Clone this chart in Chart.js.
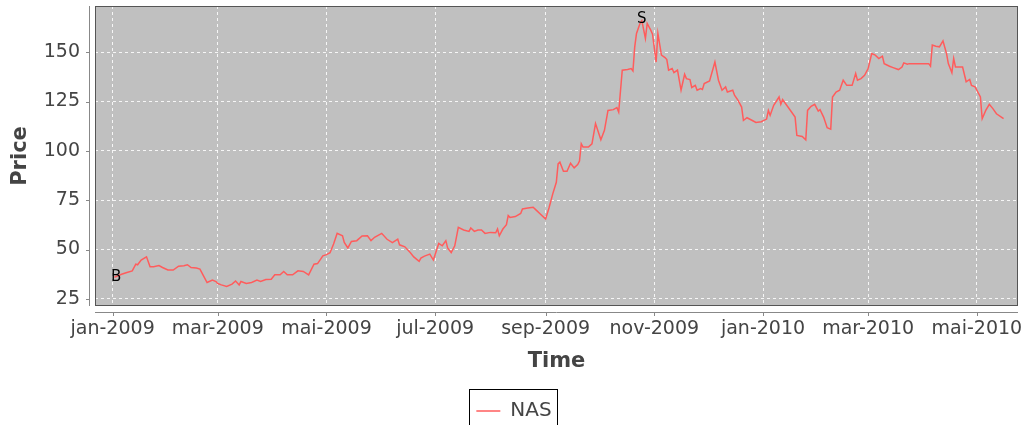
<!DOCTYPE html>
<html lang="en">
<head>
  <meta charset="UTF-8">
  <title>NAS price</title>
  <style>
    html, body { margin: 0; padding: 0; background: #fff; }
    #wrap { width: 1022px; height: 425px; }
  </style>
</head>
<body>
  <script src="https://cdn.jsdelivr.net/npm/chart.js"></script>
  <div id="wrap"><canvas id="myChart"></canvas></div>

<script>
  // days counted from 1 jan 2009
  const dayIndex = [
    1, 5, 8, 11, 13, 14, 16, 19, 21, 23, 26, 28, 31, 34, 37, 40, 42, 44, 47, 49,
    51, 53, 56, 58, 59, 61, 64, 67, 69, 71, 72, 75, 78, 81, 83, 86, 89, 91, 94, 96,
    98, 101, 104, 107, 110, 113, 115, 118, 120, 122, 124, 126, 129, 130, 132, 134, 137, 140, 143, 145,
    147, 151, 154, 157, 160, 161, 164, 167, 169, 172, 173, 175, 178, 180, 182, 183, 185, 187, 188, 190,
    192, 194, 197, 200, 201, 203, 205, 207, 209, 212, 215, 216, 217, 219, 221, 222, 223, 226, 229, 230,
    233, 236, 238, 240, 242, 243, 245, 247, 249, 250, 251, 253, 255, 257, 259, 261, 262, 263, 264, 267,
    269, 271, 274, 276, 278, 281, 283, 284, 286, 289, 291, 292, 293, 294, 296, 297, 299, 300, 302, 303,
    305, 306, 308, 310, 311, 312, 314, 315, 317, 319, 321, 322, 324, 325, 327, 328, 330, 331, 332, 335,
    338, 340, 342, 344, 345, 348, 349, 351, 353, 354, 356, 359, 361, 364, 367, 368, 369, 371, 374, 375,
    376, 379, 381, 383, 384, 387, 389, 390, 392, 394, 396, 397, 399, 401, 403, 404, 406, 408, 410, 412,
    415, 417, 418, 420, 422, 424, 426, 428, 430, 432, 433, 436, 438, 441, 443, 444, 446, 447, 452, 458,
    459, 460, 462, 464, 466, 468, 469, 471, 472, 473, 475, 477, 479, 481, 482, 484, 487, 488, 490, 492,
    494, 496, 500
  ];
  const nasPrice = [
    36.0, 37.5, 38.4, 39.2, 42.6, 42.3, 44.7, 46.3, 41.3, 41.3, 41.9, 40.9, 39.7, 39.6, 41.6, 41.8, 42.3, 40.9, 40.6, 40.1,
    36.7, 33.3, 34.5, 33.8, 32.8, 32.1, 31.3, 32.5, 34.1, 32.1, 33.8, 32.8, 33.3, 34.5, 33.8, 34.8, 35.0, 37.2, 37.2, 38.9,
    37.2, 37.2, 39.2, 38.9, 37.2, 42.6, 42.9, 46.8, 47.4, 48.4, 52.8, 58.2, 57.0, 53.6, 50.8, 54.1, 54.5, 56.9, 57.0, 54.5,
    56.2, 58.2, 55.2, 53.5, 55.3, 52.4, 51.4, 48.5, 46.3, 44.0, 45.7, 46.7, 47.7, 44.7, 50.3, 53.1, 51.9, 54.5, 50.8, 48.5,
    51.9, 61.2, 59.9, 59.2, 60.9, 59.2, 59.9, 59.9, 58.2, 58.7, 58.5, 60.4, 57.0, 60.4, 62.6, 67.2, 66.3, 66.7, 68.3, 70.6,
    71.1, 71.4, 69.7, 68.0, 66.3, 65.5, 71.4, 78.2, 84.1, 93.4, 94.3, 89.7, 89.7, 93.7, 91.4, 93.1, 94.8, 103.6, 101.9, 101.9,
    103.6, 113.8, 105.6, 110.4, 120.5, 120.9, 121.9, 119.7, 140.9, 141.2, 141.7, 140.5, 152.7, 159.5, 164.6, 166.0, 157.0, 164.6, 161.2, 159.1,
    145.0, 159.5, 148.5, 147.3, 146.3, 140.9, 141.7, 139.6, 140.9, 130.7, 138.8, 136.6, 136.1, 132.1, 133.2, 130.7, 131.6, 131.1, 134.1, 135.4,
    145.0, 135.8, 130.7, 132.4, 129.8, 130.7, 128.2, 125.6, 122.2, 115.4, 116.8, 115.4, 114.4, 114.8, 116.1, 120.5, 118.0, 123.1, 127.3, 123.6,
    126.0, 122.2, 119.7, 117.1, 107.8, 107.3, 105.6, 120.5, 122.6, 123.6, 120.2, 120.9, 117.1, 111.7, 111.0, 127.3, 129.8, 130.7, 135.8, 133.2,
    133.2, 139.2, 135.8, 136.6, 138.3, 141.7, 149.3, 148.5, 146.8, 148.0, 144.2, 142.9, 142.2, 141.2, 142.5, 144.6, 143.9, 144.2, 144.2, 144.2,
    142.9, 153.6, 153.0, 152.7, 155.7, 149.3, 144.2, 139.6, 146.8, 142.5, 142.5, 142.5, 135.0, 136.2, 133.2, 132.4, 127.3, 116.3, 120.5, 123.6,
    121.4, 118.8, 116.3
  ];

  const monthTickDays = [0, 59, 120, 181, 243, 304, 365, 424, 485];
  const monthTickLabels = ['jan-2009', 'mar-2009', 'mai-2009', 'jul-2009', 'sep-2009', 'nov-2009', 'jan-2010', 'mar-2010', 'mai-2010'];
  const priceTicks = [25, 50, 75, 100, 125, 150];

  // buy / sell marks
  const tradeLabels = ['B', 'S'];
  const tradeDays = [2, 297];
  const tradePrices = [36.2, 166.8];

  const FONT = 'DejaVu Sans';
  const TEXT = '#444';

  const points = dayIndex.map((d, i) => ({ x: d, y: nasPrice[i] }));

  const plotDecor = {
    id: 'plotDecor',
    beforeDraw(chart) {
      const { ctx, chartArea: a } = chart;
      ctx.save();
      ctx.fillStyle = '#fff';
      ctx.fillRect(0, 0, chart.width, chart.height);
      ctx.fillStyle = '#c0c0c0';
      ctx.fillRect(a.left, a.top, a.right - a.left, a.bottom - a.top);
      ctx.restore();
    },
    afterDraw(chart) {
      const { ctx, chartArea: a, scales } = chart;
      ctx.save();
      // plot outline
      ctx.strokeStyle = '#555';
      ctx.lineWidth = 1;
      ctx.strokeRect(a.left + 0.5, a.top + 0.5, a.right - a.left - 1, a.bottom - a.top - 1);

      // detached axis lines, like the java chart
      ctx.strokeStyle = '#888';
      ctx.beginPath();
      ctx.moveTo(a.left - 5.5, a.top);
      ctx.lineTo(a.left - 5.5, a.bottom);
      priceTicks.forEach(v => {
        const y = Math.round(scales.y.getPixelForValue(v)) + 0.5;
        ctx.moveTo(a.left - 9, y);
        ctx.lineTo(a.left - 5.5, y);
      });
      ctx.moveTo(a.left, a.bottom + 6.5);
      ctx.lineTo(a.right, a.bottom + 6.5);
      monthTickDays.forEach(d => {
        const x = Math.round(scales.x.getPixelForValue(d)) + 0.5;
        ctx.moveTo(x, a.bottom + 6.5);
        ctx.lineTo(x, a.bottom + 10);
      });
      ctx.stroke();

      // B / S text marks
      ctx.fillStyle = '#000';
      ctx.font = '15px ' + FONT;
      ctx.textAlign = 'center';
      ctx.textBaseline = 'middle';
      tradeLabels.forEach((t, i) => {
        ctx.fillText(t, scales.x.getPixelForValue(tradeDays[i]), scales.y.getPixelForValue(tradePrices[i]));
      });

      // box round the legend
      const hb = chart.legend.legendHitBoxes[0];
      if (hb) {
        ctx.strokeStyle = '#000';
        ctx.strokeRect(Math.round(hb.left) - 6.5, Math.round(hb.top) - 11.5, Math.round(hb.width) + 13, 60);
      }
      ctx.restore();
    }
  };

  const config = {
    type: 'line',
    data: {
      datasets: [{
        label: 'NAS',
        data: points,
        borderColor: '#ff5c5c',
        backgroundColor: '#ff5c5c',
        borderWidth: 1.5,
        pointRadius: 0,
        tension: 0
      }]
    },
    options: {
      responsive: true,
      maintainAspectRatio: false,
      animation: false,
      layout: { padding: { top: 6, right: 4, bottom: -6, left: 10 } },
      plugins: {
        tooltip: { enabled: false },
        legend: {
          position: 'bottom',
          labels: {
            usePointStyle: true,
            pointStyle: 'line',
            pointStyleWidth: 24,
            color: TEXT,
            font: { family: FONT, size: 20 },
            padding: 7
          }
        }
      },
      scales: {
        x: {
          type: 'linear',
          min: -9.9,
          max: 508.1,
          afterFit: s => { s.height = 88; s.paddingLeft = 0; s.paddingRight = 0; },
          afterBuildTicks: s => { s.ticks = monthTickDays.map(v => ({ value: v })); },
          ticks: {
            autoSkip: false,
            maxRotation: 0,
            padding: 12,
            color: TEXT,
            font: { family: FONT, size: 19 },
            callback: v => monthTickLabels[monthTickDays.indexOf(v)]
          },
          grid: { color: 'rgba(255,255,255,0.85)', drawTicks: false },
          border: { display: false, dash: [3, 3] },
          title: {
            display: true,
            text: 'Time',
            color: TEXT,
            font: { family: FONT, size: 21, weight: 'bold' },
            padding: { top: 0, bottom: 20 }
          }
        },
        y: {
          type: 'linear',
          min: 21.4,
          max: 173.4,
          afterFit: s => { s.width = 85; s.paddingTop = 0; s.paddingBottom = 0; },
          afterBuildTicks: s => { s.ticks = priceTicks.map(v => ({ value: v })); },
          ticks: {
            padding: 15,
            color: TEXT,
            font: { family: FONT, size: 19 }
          },
          grid: { color: 'rgba(255,255,255,0.85)', drawTicks: false },
          border: { display: false, dash: [3, 3] },
          title: {
            display: true,
            text: 'Price',
            color: TEXT,
            font: { family: FONT, size: 21, weight: 'bold', lineHeight: 1 },
            padding: { top: 0, bottom: 0 }
          }
        }
      }
    },
    plugins: [plotDecor]
  };

  var myChart = new Chart(document.getElementById('myChart'), config);
</script>
</body>
</html>
